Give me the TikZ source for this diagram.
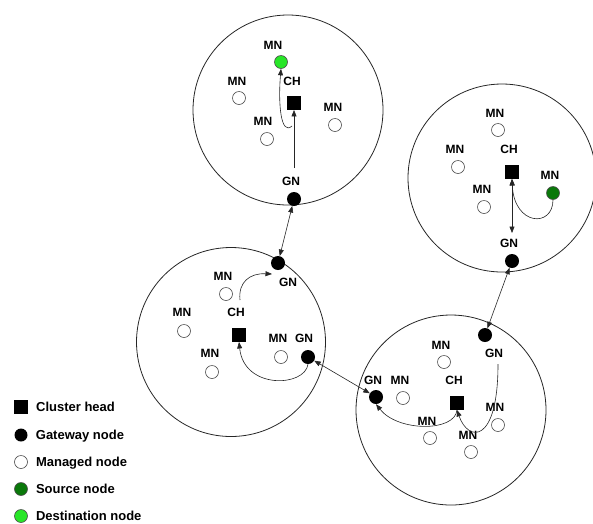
\documentclass[tikz,border=0pt]{standalone}
\usepackage{fontspec}
\setmainfont{Liberation Sans}
\usetikzlibrary{arrows.meta,positioning}
\definecolor{srcgreen}{RGB}{10,120,10}
\definecolor{dstgreen}{RGB}{40,230,40}

\begin{document}
\begin{tikzpicture}[x=1pt,y=-1pt,
    cluster/.style={draw=black!85, line width=0.8pt},
    mn/.style={circle, draw=black!70, fill=white, line width=0.6pt, minimum size=13pt, inner sep=0pt},
    gn/.style={circle, fill=black, minimum size=14pt, inner sep=0pt},
    ch/.style={rectangle, fill=black, minimum size=13.5pt, inner sep=0pt},
    srcnode/.style={mn, fill=srcgreen},
    dstnode/.style={mn, fill=dstgreen},
    tag/.style={font=\fontsize{12}{12}\selectfont\bfseries, inner sep=0pt, text depth=0pt},
    legtext/.style={font=\fontsize{13}{13}\selectfont\bfseries, inner sep=0pt, text depth=0pt},
    hop/.style={-{Triangle[length=6.5pt,width=5pt]}, line width=0.6pt, black!85},
    link/.style={{Triangle[length=6.5pt,width=5pt]}-{Triangle[length=6.5pt,width=5pt]}, line width=0.6pt, black!85}]
    \useasboundingbox (0,0) rectangle (593,523);
    % top cluster: holds the destination
    \draw[cluster] (288,110) circle [radius=95];
    \node[dstnode] (c1dst) at (281,62) {};
    \node[tag] (c1dstl) at (273,45) {MN};
    \node[mn] (c1mna) at (239,98) {};
    \node[tag] (c1mnal) at (237,81) {MN};
    \node[ch] (c1ch) at (294,103) {};
    \node[tag] (c1chl) at (292,81) {CH};
    \node[mn] (c1mnb) at (267,139) {};
    \node[tag] (c1mnbl) at (263,121) {MN};
    \node[mn] (c1mnc) at (335,125) {};
    \node[tag] (c1mncl) at (333,107) {MN};
    \node[gn] (c1gn) at (294,199) {};
    \node[tag] (c1gnl) at (291,181) {GN};
    \coordinate (c1up) at (294,168);
    \coordinate (c1turn) at (292,126);
    \draw[hop] (c1up) -- (c1ch.south);
    \draw[hop] (c1turn) .. controls (281,136) and (278,105) .. (c1dst.south);
    % right cluster: holds the source
    \draw[cluster] (502,178) circle [radius=94];
    \node[mn] (c2mna) at (498,130) {};
    \node[tag] (c2mnal) at (495,113) {MN};
    \node[mn] (c2mnb) at (458,167) {};
    \node[tag] (c2mnbl) at (455,149) {MN};
    \node[ch] (c2ch) at (512,172) {};
    \node[tag] (c2chl) at (509,149) {CH};
    \node[mn] (c2mnc) at (484,207) {};
    \node[tag] (c2mncl) at (482,189) {MN};
    \node[srcnode] (c2src) at (553,193) {};
    \node[tag] (c2srcl) at (550,175) {MN};
    \node[gn] (c2gn) at (512,261) {};
    \node[tag] (c2gnl) at (509,243) {GN};
    \coordinate (c2down) at (512,233);
    \draw[link] (c2ch.south) -- (c2down);
    \draw[hop] (c2src.south) .. controls (553,228) and (514,226) .. (c2ch.south);
    % left cluster
    \draw[cluster] (231,342) circle [radius=94.5];
    \node[gn] (c3gna) at (278,263) {};
    \node[tag] (c3gnal) at (288,282) {GN};
    \node[mn] (c3mna) at (226,294) {};
    \node[tag] (c3mnal) at (223,276) {MN};
    \node[mn] (c3mnb) at (184,331) {};
    \node[tag] (c3mnbl) at (182,312) {MN};
    \node[ch] (c3ch) at (239,335) {};
    \node[tag] (c3chl) at (236,312) {CH};
    \node[mn] (c3mnc) at (281,357) {};
    \node[tag] (c3mncl) at (278,338) {MN};
    \node[gn] (c3gnb) at (308,357) {};
    \node[tag] (c3gnbl) at (304,338) {GN};
    \node[mn] (c3mnd) at (212,372) {};
    \node[tag] (c3mndl) at (210,353) {MN};
    \coordinate (c3from) at (240,300);
    \coordinate (c3to) at (272,274);
    \draw[hop] (c3from) .. controls (238,282) and (250,273) .. (c3to);
    \draw[hop] (c3gnb.south) .. controls (305,387) and (244,390) .. (c3ch.south);
    % bottom right cluster
    \draw[cluster] (451,410) circle [radius=95];
    \node[gn] (c4gna) at (485,335) {};
    \node[tag] (c4gnal) at (494,353) {GN};
    \node[mn] (c4mna) at (444,362) {};
    \node[tag] (c4mnal) at (441,345) {MN};
    \node[gn] (c4gnb) at (376,397) {};
    \node[tag] (c4gnbl) at (373,380) {GN};
    \node[mn] (c4mnb) at (403,398) {};
    \node[tag] (c4mnbl) at (400,380) {MN};
    \node[ch] (c4ch) at (457,403) {};
    \node[tag] (c4chl) at (454,380) {CH};
    \node[mn] (c4mnc) at (498,425) {};
    \node[tag] (c4mncl) at (495,407) {MN};
    \node[mn] (c4mnd) at (430,438) {};
    \node[tag] (c4mndl) at (427,421) {MN};
    \node[mn] (c4mne) at (471,452) {};
    \node[tag] (c4mnel) at (468,435) {MN};
    \coordinate (c4from) at (498,364);
    \draw[hop] (c4from) .. controls (498,445) and (468,442) .. (c4ch.south);
    \draw[hop] (c4ch.south) .. controls (455,432) and (398,432) .. (c4gnb.south);
    % gateway to gateway links
    \draw[link] (c3gna) -- (c1gn);
    \draw[link] (c2gn) -- (c4gna);
    \draw[link] (c3gnb) -- (c4gnb);
    % legend
    \node[ch] (lgch) at (21,407) {};
    \node[legtext, right=8pt of lgch] (lgchl) {Cluster head};
    \node[gn, minimum size=13pt] (lggn) at (21,435) {};
    \node[legtext, right=8pt of lggn] (lggnl) {Gateway node};
    \node[mn] (lgmn) at (21,462) {};
    \node[legtext, right=8pt of lgmn] (lgmnl) {Managed node};
    \node[srcnode] (lgsrc) at (21,489) {};
    \node[legtext, right=8pt of lgsrc] (lgsrcl) {Source node};
    \node[dstnode] (lgdst) at (21,516) {};
    \node[legtext, right=8pt of lgdst] (lgdstl) {Destination node};
\end{tikzpicture}
\end{document}
